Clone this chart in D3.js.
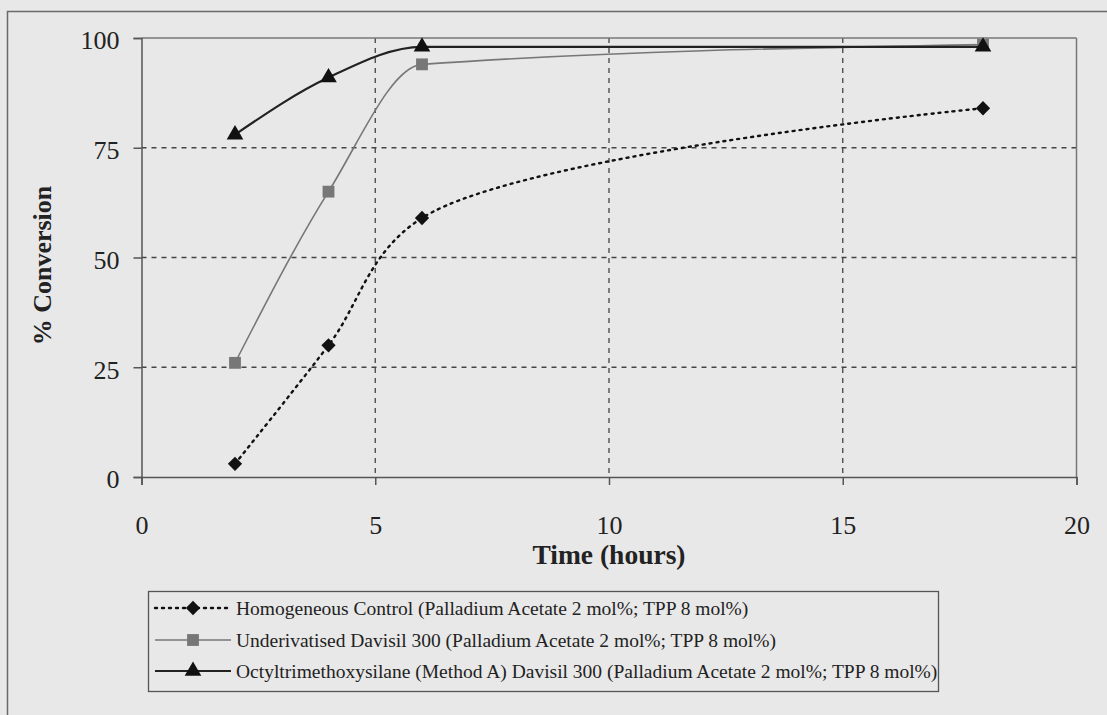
<!DOCTYPE html>
<html><head><meta charset="utf-8">
<script src="https://cdn.jsdelivr.net/npm/d3@7"></script>
<style>body{margin:0;background:#e8e8e8;} svg{display:block;}</style>
</head><body>
<script>
const times = [2, 4, 6, 18];
const homogeneous = [3, 30, 59, 84];
const underivatised = [26, 65, 94, 98.5];
const octyl = [78, 91, 98, 98];
const xTicks = [0, 5, 10, 15, 20];
const yTicks = [0, 25, 50, 75, 100];
const seriesNames = [
  "Homogeneous Control (Palladium Acetate 2 mol%; TPP 8 mol%)",
  "Underivatised Davisil 300 (Palladium Acetate 2 mol%; TPP 8 mol%)",
  "Octyltrimethoxysilane  (Method A) Davisil 300 (Palladium Acetate 2 mol%; TPP 8 mol%)"
];

const W = 1107, H = 715;
const svg = d3.select("body").append("svg").attr("width", W).attr("height", H);
svg.append("rect").attr("width", W).attr("height", H).attr("fill", "#e8e8e8");
svg.append("rect").attr("x", 7.5).attr("y", 11.5).attr("width", W + 20).attr("height", H + 20)
  .attr("fill", "none").attr("stroke", "#6a6a6a").attr("stroke-width", 1.5);

const L = 141.5, R = 1076.5, T = 38, B = 477;
const x = d3.scaleLinear().domain([0, 20]).range([L, R]);
const y = d3.scaleLinear().domain([0, 100]).range([B, T]);
const serif = "'Liberation Serif','Times New Roman',serif";

// gridlines
const g = svg.append("g");
g.selectAll(".gx").data(xTicks.filter(d => d > 0 && d < 20)).enter().append("line")
  .attr("x1", d => x(d)).attr("x2", d => x(d)).attr("y1", T).attr("y2", B)
  .attr("stroke", "#444").attr("stroke-width", 1.3).attr("stroke-dasharray", "5,5");
g.selectAll(".gy").data(yTicks.filter(d => d > 0 && d < 100)).enter().append("line")
  .attr("x1", L).attr("x2", R).attr("y1", d => y(d)).attr("y2", d => y(d))
  .attr("stroke", "#444").attr("stroke-width", 1.3).attr("stroke-dasharray", "5,5");

// plot border
svg.append("line").attr("x1", L).attr("x2", R).attr("y1", T).attr("y2", T).attr("stroke", "#777").attr("stroke-width", 1.5);
svg.append("line").attr("x1", R).attr("x2", R).attr("y1", T).attr("y2", B).attr("stroke", "#777").attr("stroke-width", 1.5);

// axes
const xAxis = d3.axisBottom(x).tickValues(xTicks).tickSize(8).tickPadding(31);
const yAxis = d3.axisLeft(y).tickValues(yTicks).tickSize(8).tickPadding(14);
const gx = svg.append("g").attr("transform", `translate(0,${B})`).call(xAxis);
const gy = svg.append("g").attr("transform", `translate(${L},0)`).call(yAxis);
[gx, gy].forEach(a => {
  a.select(".domain").attr("stroke", "#555").attr("stroke-width", 1.5);
  a.selectAll(".tick line").attr("stroke", "#555").attr("stroke-width", 1.5);
  a.selectAll("text").attr("font-family", serif).attr("font-size", 26).attr("fill", "#222");
});
gy.selectAll("text").attr("dy", "0.42em");

// axis titles
svg.append("text").attr("x", x(10)).attr("y", 564).attr("text-anchor", "middle")
  .attr("font-family", serif).attr("font-weight", "bold").attr("font-size", 27.5).attr("fill", "#222")
  .text("Time (hours)");
svg.append("text").attr("transform", `translate(51,${(T + B) / 2 + 8}) rotate(-90)`).attr("text-anchor", "middle")
  .attr("font-family", serif).attr("font-weight", "bold").attr("font-size", 26).attr("fill", "#222")
  .text("% Conversion");

const series = [
  {vals: homogeneous, color: "#111", dash: "2,5", width: 2.4, sym: d3.symbolDiamond2, symColor: "#111", size: 130, cap: "round", curve: d3.curveCatmullRom.alpha(0.5)},
  {vals: underivatised, color: "#777", dash: null, width: 1.6, sym: d3.symbolSquare, symColor: "#777", size: 140, cap: "butt", curve: d3.curveMonotoneX},
  {vals: octyl, color: "#222", dash: null, width: 2.2, sym: d3.symbolTriangle, symColor: "#111", size: 120, cap: "butt", curve: d3.curveMonotoneX}
];
series.forEach(s => {
  const pts = times.map((t, i) => [t, s.vals[i]]);
  const line = d3.line().x(d => x(d[0])).y(d => y(d[1])).curve(s.curve);
  svg.append("path").attr("d", line(pts)).attr("fill", "none").attr("stroke", s.color)
    .attr("stroke-width", s.width).attr("stroke-dasharray", s.dash).attr("stroke-linecap", s.cap);
  svg.selectAll(null).data(pts).enter().append("path")
    .attr("transform", d => `translate(${x(d[0])},${y(d[1])})`)
    .attr("d", d3.symbol().type(s.sym).size(s.size)).attr("fill", s.symColor);
});

// legend
const lg = svg.append("g");
lg.append("rect").attr("x", 148.5).attr("y", 591.5).attr("width", 790).attr("height", 100)
  .attr("fill", "none").attr("stroke", "#555").attr("stroke-width", 1.3);
const rowsY = [608, 640, 671];
series.forEach((s, i) => {
  const yy = rowsY[i];
  lg.append("line").attr("x1", 155).attr("x2", 231).attr("y1", yy).attr("y2", yy)
    .attr("stroke", s.color).attr("stroke-width", s.width).attr("stroke-dasharray", s.dash).attr("stroke-linecap", s.cap);
  lg.append("path").attr("transform", `translate(193,${yy})`)
    .attr("d", d3.symbol().type(s.sym).size(s.size)).attr("fill", s.symColor);
  lg.append("text").attr("x", 236).attr("y", yy).attr("dy", "0.35em")
    .attr("font-family", serif).attr("font-size", 19.5).attr("fill", "#222").text(seriesNames[i]);
});
</script>
</body></html>
